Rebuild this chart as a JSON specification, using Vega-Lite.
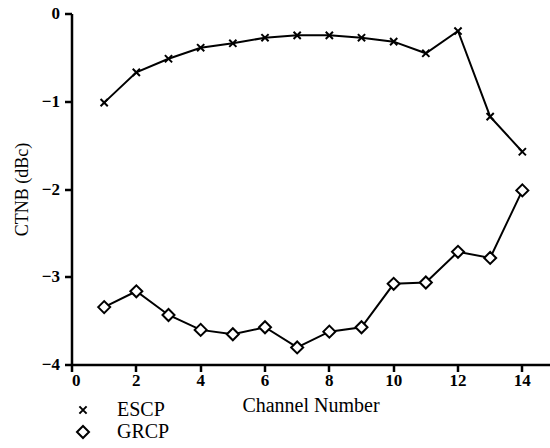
{
  "$schema": "https://vega.github.io/schema/vega-lite/v6.json",
  "width": 478,
  "height": 351,
  "autosize": {"type": "none"},
  "padding": {"left": 72, "top": 14, "right": 0, "bottom": 83},
  "background": "white",
  "config": {
    "view": {"stroke": null},
    "legend": {"symbolLimit": 0}
  },
  "data": {
    "values": [
      {"channel": 1, "value": -1.01, "series": "ESCP"},
      {"channel": 2, "value": -0.665, "series": "ESCP"},
      {"channel": 3, "value": -0.51, "series": "ESCP"},
      {"channel": 4, "value": -0.384, "series": "ESCP"},
      {"channel": 5, "value": -0.334, "series": "ESCP"},
      {"channel": 6, "value": -0.27, "series": "ESCP"},
      {"channel": 7, "value": -0.243, "series": "ESCP"},
      {"channel": 8, "value": -0.243, "series": "ESCP"},
      {"channel": 9, "value": -0.27, "series": "ESCP"},
      {"channel": 10, "value": -0.315, "series": "ESCP"},
      {"channel": 11, "value": -0.448, "series": "ESCP"},
      {"channel": 12, "value": -0.194, "series": "ESCP"},
      {"channel": 13, "value": -1.17, "series": "ESCP"},
      {"channel": 14, "value": -1.57, "series": "ESCP"},
      {"channel": 1, "value": -3.34, "series": "GRCP"},
      {"channel": 2, "value": -3.16, "series": "GRCP"},
      {"channel": 3, "value": -3.43, "series": "GRCP"},
      {"channel": 4, "value": -3.6, "series": "GRCP"},
      {"channel": 5, "value": -3.65, "series": "GRCP"},
      {"channel": 6, "value": -3.57, "series": "GRCP"},
      {"channel": 7, "value": -3.8, "series": "GRCP"},
      {"channel": 8, "value": -3.62, "series": "GRCP"},
      {"channel": 9, "value": -3.57, "series": "GRCP"},
      {"channel": 10, "value": -3.075, "series": "GRCP"},
      {"channel": 11, "value": -3.06, "series": "GRCP"},
      {"channel": 12, "value": -2.71, "series": "GRCP"},
      {"channel": 13, "value": -2.78, "series": "GRCP"},
      {"channel": 14, "value": -2.01, "series": "GRCP"}
    ]
  },
  "encoding": {
    "x": {
      "field": "channel",
      "type": "quantitative",
      "scale": {"domain": [0, 14.86], "nice": false, "zero": false},
      "axis": {
        "values": [0, 2, 4, 6, 8, 10, 12, 14],
        "title": "Channel Number",
        "grid": false,
        "translate": 0,
        "domainColor": "#000000",
        "domainWidth": 2.5,
        "tickColor": "#000000",
        "tickWidth": 2.5,
        "tickSize": 7,
        "labelFont": "Liberation Serif",
        "labelFontWeight": "bold",
        "labelFontSize": 17,
        "labelColor": "#000000",
        "labelPadding": 1,
        "titleFont": "Liberation Serif",
        "titleFontWeight": "normal",
        "titleColor": "#000000",
        "titleFontSize": 20,
        "titlePadding": 7
      }
    },
    "y": {
      "field": "value",
      "type": "quantitative",
      "scale": {"domain": [-4, 0], "nice": false},
      "axis": {
        "values": [-4, -3, -2, -1, 0],
        "title": "CTNB (dBc)",
        "grid": false,
        "translate": 0,
        "domainColor": "#000000",
        "domainWidth": 2.5,
        "tickColor": "#000000",
        "tickWidth": 2.5,
        "tickSize": 7,
        "labelFont": "Liberation Serif",
        "labelFontWeight": "bold",
        "labelFontSize": 17,
        "labelColor": "#000000",
        "labelPadding": 5,
        "titleFont": "Liberation Serif",
        "titleFontWeight": "normal",
        "titleColor": "#000000",
        "titleFontSize": 18,
        "titlePadding": 10
      }
    }
  },
  "layer": [
    {
      "mark": {"type": "line", "color": "black", "strokeWidth": 2},
      "encoding": {"detail": {"field": "series"}}
    },
    {
      "mark": {"type": "point", "size": 144, "fill": "white", "stroke": "black", "strokeWidth": 2, "opacity": 1, "filled": true},
      "encoding": {
        "shape": {
          "field": "series",
          "type": "nominal",
          "scale": {"domain": ["ESCP", "GRCP"], "range": ["M-0.6,-0.6L0.6,0.6M-0.6,0.6L0.6,-0.6", "diamond"]},
          "legend": {
            "title": null,
            "orient": "none",
            "legendX": 1,
            "legendY": 386,
            "symbolSize": 144,
            "symbolStrokeWidth": 2,
            "labelFont": "Liberation Serif",
            "labelFontSize": 20,
            "labelColor": "black",
            "labelOffset": 24,
            "rowPadding": 2,
            "encode": {
              "symbols": {
                "update": {
                  "shape": {"signal": "datum.value === 'ESCP' ? 'M-2.5,0L-2.1,0M-1.7,0L-0.6,0M0.6,0L1.7,0M2.1,0L2.5,0M-0.6,-0.6L0.6,0.6M-0.6,0.6L0.6,-0.6' : 'M-2.5,0L-2.1,0M1.6,0L2.4,0M-0.9,0L0,-0.9L0.9,0L0,0.9Z'"},
                  "size": {"value": 144},
                  "fill": {"value": "white"},
                  "stroke": {"value": "black"},
                  "strokeWidth": {"value": 2},
                  "opacity": {"value": 1}
                }
              }
            }
          }
        }
      }
    }
  ]
}
